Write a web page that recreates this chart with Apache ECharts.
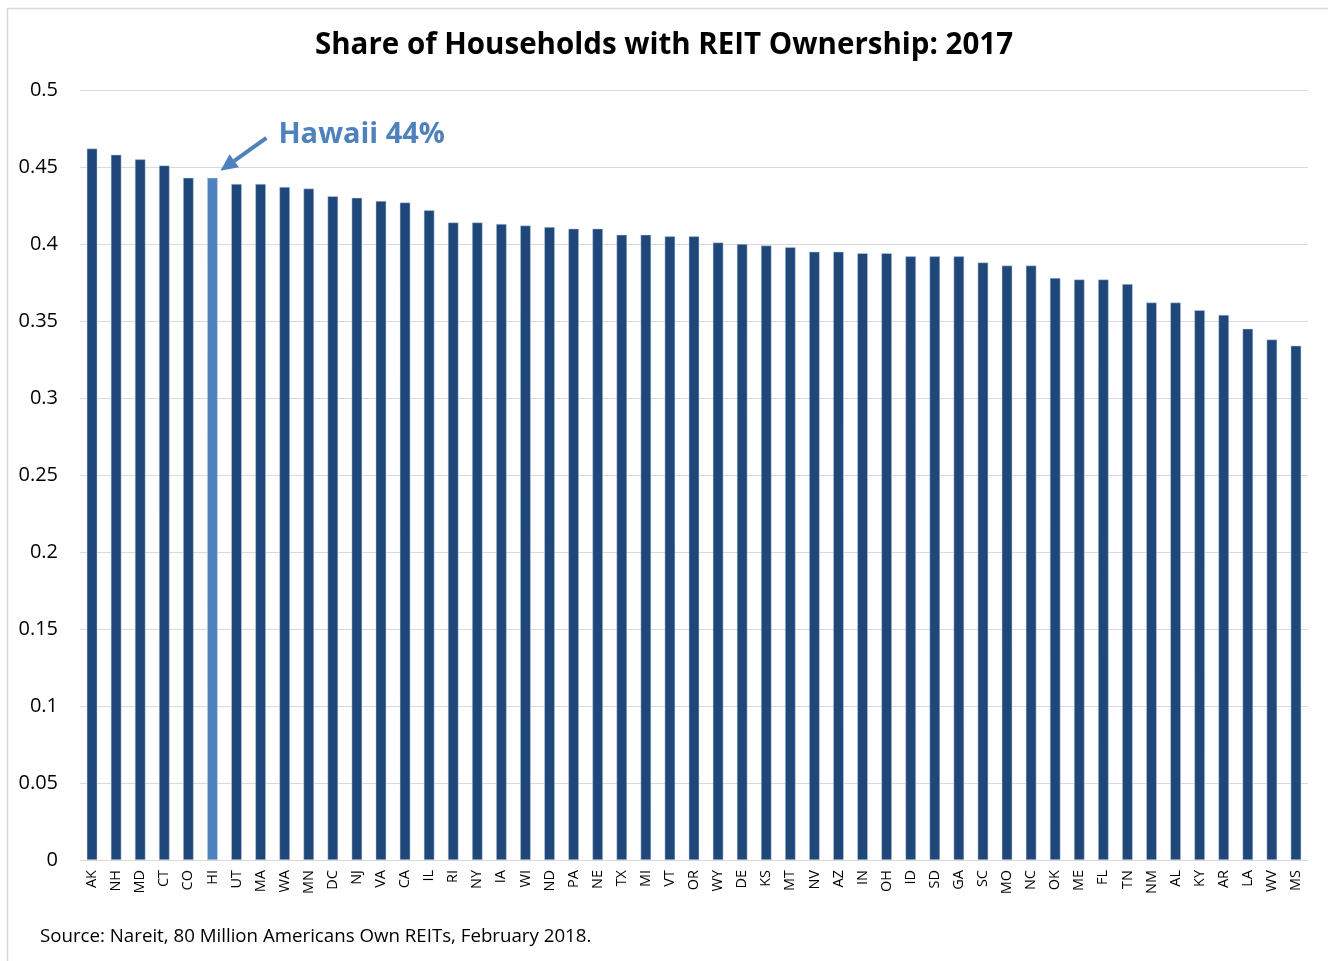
<!DOCTYPE html>
<html>
<head>
<meta charset="utf-8">
<script src="https://cdn.jsdelivr.net/npm/echarts@6/dist/echarts.min.js"></script>
<style>
html,body{margin:0;padding:0;background:#fff;}
#chart{width:1328px;height:961px;}
</style>
</head>
<body>
<div id="chart"></div>
<script>
const states = ['AK','NH','MD','CT','CO','HI','UT','MA','WA','MN','DC','NJ','VA','CA','IL','RI','NY','IA','WI','ND','PA','NE','TX','MI','VT','OR','WY','DE','KS','MT','NV','AZ','IN','OH','ID','SD','GA','SC','MO','NC','OK','ME','FL','TN','NM','AL','KY','AR','LA','WV','MS'];
const shares = [0.462,0.458,0.455,0.451,0.443,0.443,0.439,0.439,0.437,0.436,0.431,0.430,0.428,0.427,0.422,0.414,0.414,0.413,0.412,0.411,0.410,0.410,0.406,0.406,0.405,0.405,0.401,0.400,0.399,0.398,0.395,0.395,0.394,0.394,0.392,0.392,0.392,0.388,0.386,0.386,0.378,0.377,0.377,0.374,0.362,0.362,0.357,0.354,0.345,0.338,0.334];
const yTicks = [0,0.05,0.1,0.15,0.2,0.25,0.3,0.35,0.4,0.45,0.5];
const highlightState = 'HI';
const annotationText = 'Hawaii 44%';
const titleText = 'Share of Households with REIT Ownership: 2017';
const sourceText = 'Source: Nareit, 80 Million Americans Own REITs, February 2018.';

const DARK = '#1F4779';
const LIGHT = '#4F81BD';
const FONT = '"Open Sans", Lato, sans-serif';

const chart = echarts.init(document.getElementById('chart'), null, {renderer:'canvas'});
const option = {
  backgroundColor:'#fff',
  animation:false,
  title:{
    text:titleText, left:'center', top:26,
    textStyle:{fontFamily:FONT, fontWeight:'bold', fontSize:29.5, color:'#000'}
  },
  grid:{left:80, right:20, top:90, bottom:101, containLabel:false},
  xAxis:{
    type:'category', data:states,
    axisLine:{show:true, lineStyle:{color:'#D9D9D9', width:1}},
    axisTick:{show:false},
    axisLabel:{rotate:90, interval:0, fontFamily:FONT, fontSize:14.5, color:'#000', margin:10}
  },
  yAxis:{
    type:'value', min:0, max:0.5, interval:0.05,
    axisLine:{show:false}, axisTick:{show:false},
    splitLine:{lineStyle:{color:'#D9D9D9', width:1}},
    axisLabel:{fontFamily:FONT, fontSize:20, color:'#000', margin:22,
      formatter:function(v){ const t = yTicks.find(x=>Math.abs(x-v)<1e-9); return String(t!==undefined?t:+v.toFixed(2)); }}
  },
  series:[{
    type:'bar', barWidth:'44%',
    data:shares.map((v,i)=>({value:v, itemStyle:{color: states[i]===highlightState?LIGHT:DARK}})),
    itemStyle:{borderColor:'rgba(200,215,235,0.8)', borderWidth:0.6}
  }]
};
chart.setOption(option);

// annotation anchored to the highlighted bar's top
const hi = states.indexOf(highlightState);
const p = chart.convertToPixel({seriesIndex:0}, [hi, shares[hi]]);
const tip = [p[0]+8, p[1]-7];
const tail = [p[0]+54, p[1]-40];
const ang = Math.atan2(tip[1]-tail[1], tip[0]-tail[0]);
const hl = 17, hw = 8;
const base = [tip[0]-hl*Math.cos(ang), tip[1]-hl*Math.sin(ang)];
const nx = -Math.sin(ang), ny = Math.cos(ang);
chart.setOption({
  graphic:[
    {type:'rect', left:5, top:6, shape:{width:1400, height:1000}, style:{fill:'none', stroke:'#D9D9D9', lineWidth:1.5}, silent:true},
    {type:'text', left:40, top:927, style:{text:sourceText, font:'18.7px '+FONT, fill:'#000'}},
    {type:'line', shape:{x1:tail[0], y1:tail[1], x2:base[0], y2:base[1]}, style:{stroke:LIGHT, lineWidth:4}},
    {type:'polygon', shape:{points:[tip,[base[0]+nx*hw, base[1]+ny*hw],[base[0]-nx*hw, base[1]-ny*hw]]}, style:{fill:LIGHT}},
    {type:'text', x:p[0]+66, y:p[1]-43, style:{text:annotationText, font:'bold 29px '+FONT, fill:LIGHT, verticalAlign:'middle'}}
  ]
});
</script>
</body>
</html>
